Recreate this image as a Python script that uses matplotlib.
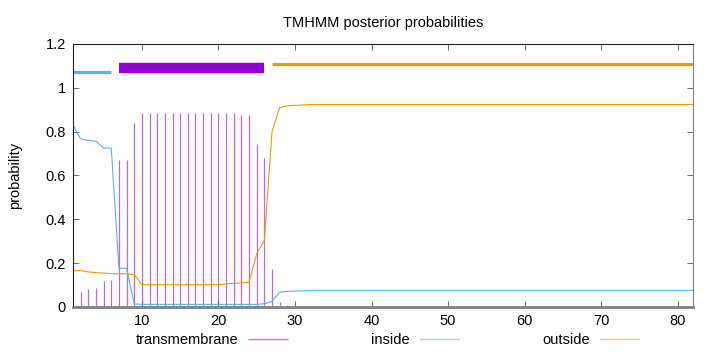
import matplotlib
matplotlib.use("Agg")
import matplotlib.pyplot as plt
from matplotlib.ticker import FuncFormatter, MultipleLocator
import numpy as np

positions = list(range(1, 83))
transmembrane = ([0.0, 0.068, 0.081, 0.087, 0.119, 0.123, 0.673, 0.673, 0.84]
                 + [0.887] * 12 + [0.883, 0.878, 0.875, 0.745, 0.68, 0.175,
                                   0.022, 0.01, 0.008, 0.005, 0.002]
                 + [0.0] * 50)
inside = ([0.83, 0.767, 0.76, 0.757, 0.725, 0.725, 0.177, 0.177, 0.014]
          + [0.012] * 16 + [0.015, 0.025, 0.068, 0.071, 0.073, 0.074, 0.075]
          + [0.076] * 50)
outside = ([0.166, 0.166, 0.16, 0.157, 0.155, 0.152, 0.152, 0.152, 0.148]
           + [0.102] * 11 + [0.105, 0.108, 0.11, 0.112, 0.243, 0.304, 0.80,
                             0.91, 0.918, 0.92, 0.922, 0.924]
           + [0.924] * 50)

# topology segments: (start, end, y-level)
seg_inside = (1, 6, 1.072)
seg_tm = (7, 26, 1.09)
seg_outside = (27, 82, 1.11)

c_tm = "#9400d3"
c_in = "#56b4e9"
c_out = "#e69f00"

plt.rcParams['font.family'] = ['Liberation Sans', 'DejaVu Sans']

fig = plt.figure(figsize=(7.2, 3.52), dpi=100)
ax = fig.add_axes([73 / 720, 1 - 307 / 352, 620 / 720, 263 / 352])

ax.vlines(positions, 0, transmembrane, color=c_tm, lw=0.9, alpha=0.6,
          label="transmembrane")
ax.plot(positions, inside, color=c_in, lw=0.8, label="inside")
ax.plot(positions, outside, color=c_out, lw=0.8, label="outside")

ax.hlines(seg_inside[2], seg_inside[0], seg_inside[1], color=c_in, lw=2.3,
          capstyle='butt')
ax.hlines(seg_tm[2], seg_tm[0], seg_tm[1], color=c_tm, lw=7.5,
          capstyle='butt')
ax.hlines(seg_outside[2], seg_outside[0], seg_outside[1], color=c_out, lw=2.3,
          capstyle='butt')

ax.set_xlim(1, 82)
ax.set_ylim(0, 1.2)
ax.xaxis.set_major_locator(MultipleLocator(10))
ax.yaxis.set_major_locator(MultipleLocator(0.2))
ax.yaxis.set_major_formatter(FuncFormatter(lambda v, p: ("%.1f" % v).rstrip('0').rstrip('.') if v else "0"))
ax.tick_params(direction='in', top=True, right=True, length=4, width=0.6,
               labelsize=10.5, color='#555555', pad=5)
ax.set_xticks([10, 20, 30, 40, 50, 60, 70, 80])
for s in ax.spines.values():
    s.set_linewidth(0.8)
    s.set_color('#222222')
ax.spines['bottom'].set_color('#808080')
ax.spines['bottom'].set_linewidth(2)
ax.spines['right'].set_color('#808080')
ax.set_ylabel("probability", fontsize=10.5, labelpad=17)
ax.set_title("TMHMM posterior probabilities", fontsize=10.5, pad=12)

leg = ax.legend(loc='upper center', bbox_to_anchor=(0.507, -0.05), ncol=3,
                frameon=False, markerfirst=False, fontsize=10.5,
                handlelength=2.7, columnspacing=5.7, handletextpad=0.7)
for h in leg.legend_handles:
    h.set_alpha(0.55)
    h.set_linewidth(1)

fig.savefig("out.png", dpi=100)
